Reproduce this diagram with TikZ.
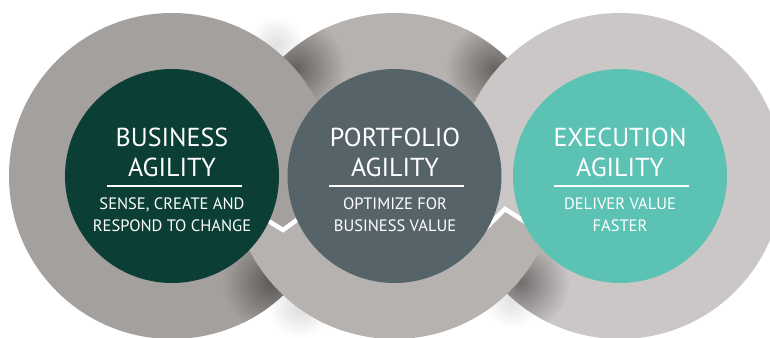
\documentclass[tikz,border=0pt]{standalone}
\usepackage{fontspec}
\setmainfont{PT Sans}
\definecolor{ringleft}{RGB}{164,160,157}
\definecolor{ringmid}{RGB}{182,178,175}
\definecolor{ringright}{RGB}{203,199,198}
\definecolor{forest}{RGB}{11,62,52}
\definecolor{slate}{RGB}{86,100,106}
\definecolor{turquoise}{RGB}{92,194,180}
\tikzset{
  headline/.style={text=white, align=center, inner sep=0pt, font=\fontsize{26}{30}\selectfont},
  tagline/.style={text=white, align=center, inner sep=0pt, font=\fontsize{16.5}{22}\selectfont},
  divider/.style={white, line width=2pt},
  chevron/.style={white, line width=4.5pt, line join=miter},
}

\begin{document}
\begin{tikzpicture}[x=1pt, y=-1pt]
            % Frame to ensure alignment
            \fill[white] (0,0) rectangle (770,337);
            \useasboundingbox (0,0) rectangle (770,337);
            % Soft shadows on the background
            \shade[inner color=black!12, outer color=white] (276, 44) circle (28);
            \shade[inner color=black!14, outer color=white] (300,306) circle (32);
            \shade[inner color=black!12, outer color=white] (512,300) circle (28);
            % Right ring
            \fill[ringright] (620,176) circle (163);
            \begin{scope}
              \clip (620,176) circle (163);
              \shade[inner color=ringright!55!black, outer color=ringright] (520,282) circle (50);
            \end{scope}
            % Middle ring
            \fill[ringmid] (394.5,176) circle (163);
            \begin{scope}
              \clip (394.5,176) circle (163);
              \shade[inner color=ringmid!55!black, outer color=ringmid] (296, 68) circle (50);
              \shade[inner color=ringmid!55!black, outer color=ringmid] (495, 70) circle (50);
            \end{scope}
            % Right ring over middle (top)
            \begin{scope}
              \clip (440,0) -- (440,274) -- (505,209) -- (570,251) -- (570,0) -- cycle;
              \fill[ringright] (620,176) circle (163);
            \end{scope}
            % Left ring
            \fill[ringleft] (172,176) circle (163);
            \begin{scope}
              \clip (172,176) circle (163);
              \shade[inner color=ringleft!55!black, outer color=ringleft] (272,282) circle (50);
            \end{scope}
            % Middle ring over left (bottom)
            \begin{scope}
              \clip (150,148) -- (283,230) -- (345,186) -- (345,345) -- (150,345) -- cycle;
              \fill[ringmid] (394.5,176) circle (163);
            \end{scope}
            % Links
            \draw[chevron] (262,217) -- (283,230) -- (305,214);
            \draw[chevron] (484,230) -- (505,209) -- (530,225);
            % Centres
            \fill[forest]    (172,176)   circle (107);
            \fill[slate]     (394.5,176) circle (107);
            \fill[turquoise] (620,176)   circle (107);
            % Business
            \node[headline] (bizT) at (172,152.5) {BUSINESS\\AGILITY};
            \coordinate (bizR) at (174.5,186);
            \draw[divider] (bizR) ++(-67.5,0) -- ++(135,0);
            \node[tagline] (bizS) at (172,214.5) {SENSE, CREATE AND\\RESPOND TO CHANGE};
            % Portfolio
            \node[headline] (porT) at (395,152.5) {PORTFOLIO\\AGILITY};
            \coordinate (porR) at (396.5,186);
            \draw[divider] (porR) ++(-67.5,0) -- ++(135,0);
            \node[tagline] (porS) at (395,214.5) {OPTIMIZE FOR\\BUSINESS VALUE};
            % Execution
            \node[headline] (exeT) at (620,152.5) {EXECUTION\\AGILITY};
            \coordinate (exeR) at (621.5,186);
            \draw[divider] (exeR) ++(-67.5,0) -- ++(135,0);
            \node[tagline] (exeS) at (620,214.5) {DELIVER VALUE\\FASTER};
\end{tikzpicture}
\end{document}
